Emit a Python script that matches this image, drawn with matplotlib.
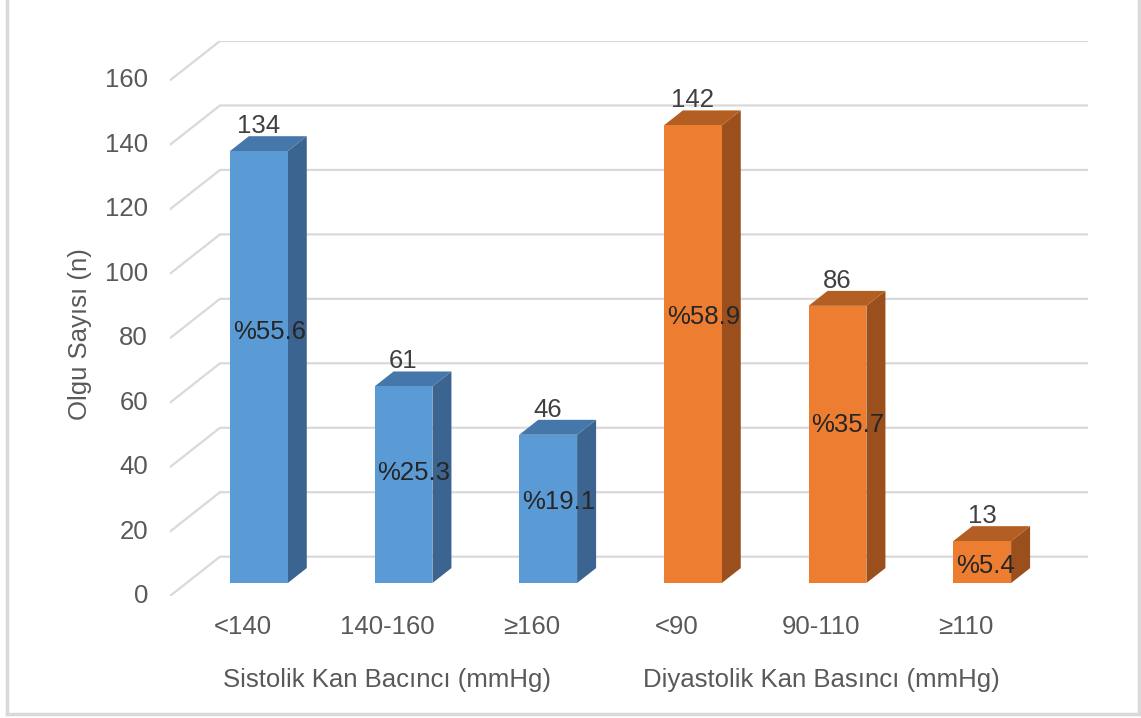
import matplotlib
matplotlib.use("Agg")
import matplotlib.pyplot as plt
from matplotlib.patches import Polygon
from matplotlib.lines import Line2D

# ── Données ───────────────────────────────────────────────────────────────────
categories = ['<140', '140-160', '≥160', '<90', '90-110', '≥110']
counts = [134, 61, 46, 142, 86, 13]
percents = ['%55.6', '%25.3', '%19.1', '%58.9', '%35.7', '%5.4']
groups = ['Sistolik Kan Bacıncı (mmHg)', 'Diyastolik Kan Basıncı (mmHg)']
group_of_bar = [0, 0, 0, 1, 1, 1]
y_ticks = [0, 20, 40, 60, 80, 100, 120, 140, 160]

# ── Style ─────────────────────────────────────────────────────────────────────
plt.rcParams['font.family'] = ['Liberation Sans', 'DejaVu Sans']
FS = 18.5
GRID = '#D9D9D9'
TXT = '#595959'
LAB = '#404040'
front_c = ['#5B9BD5', '#ED7D31']
top_c = ['#4677AA', '#B35E22']
side_c = ['#3B6590', '#9B4F1C']

PX = 72 / 100                 # 1 pixel en points (dpi=100)

# profondeur 3D (unités données)
DX, DY = 0.3456, 12.2
F1, F2 = 0.33, 0.71          # face avant / arrière des barres (fraction profondeur)
W = 0.40                      # largeur de barre

fig = plt.figure(figsize=(11.41, 7.18), dpi=100)
ax = fig.add_axes([170 / 1141, 1 - 596 / 718, 918 / 1141, 555 / 718])
n = len(categories)
ax.set_xlim(0, n + DX)
ax.set_ylim(0, y_ticks[-1] + DY)
ax.axis('off')

# grille murale (oblique + horizontale)
for v in y_ticks:
    ax.plot([0, DX, n + DX], [v, v + DY, v + DY], color=GRID, lw=1.6,
            zorder=1, solid_joinstyle='miter')
    ax.annotate(str(v), (0, v), xytext=(-22 * PX, 0), textcoords='offset points',
                ha='right', va='center', fontsize=FS, color=TXT,
                annotation_clip=False)

# barres 3D
for i, (v, g) in enumerate(zip(counts, group_of_bar)):
    x0 = i + 0.5 - W / 2 + F1 * DX
    yb = F1 * DY
    ddx, ddy = (F2 - F1) * DX, (F2 - F1) * DY
    front = [(x0, yb), (x0 + W, yb), (x0 + W, yb + v), (x0, yb + v)]
    top = [(x0, yb + v), (x0 + W, yb + v), (x0 + W + ddx, yb + v + ddy),
           (x0 + ddx, yb + v + ddy)]
    side = [(x0 + W, yb), (x0 + W + ddx, yb + ddy),
            (x0 + W + ddx, yb + v + ddy), (x0 + W, yb + v)]
    ax.add_patch(Polygon(side, closed=True, fc=side_c[g], ec='none', zorder=3))
    ax.add_patch(Polygon(top, closed=True, fc=top_c[g], ec='none', zorder=3))
    ax.add_patch(Polygon(front, closed=True, fc=front_c[g], ec='none', zorder=4))

    # valeur au-dessus
    ax.annotate(str(v), (x0 + W / 2, yb + v + ddy), xytext=(0, 3 * PX),
                textcoords='offset points', ha='center', va='baseline',
                fontsize=FS, color=LAB, zorder=6, annotation_clip=False)
    # pourcentage dans la barre
    ax.annotate(percents[i], (x0, 0.6 * v + 1.5), xytext=(3 * PX, 0),
                textcoords='offset points', ha='left', va='center',
                fontsize=FS, color='#262626', zorder=6)

# libellés de catégories
for i, c in enumerate(categories):
    ax.annotate(c, (i + 0.5, 0), xytext=(0, -31 * PX), textcoords='offset points',
                ha='center', va='center', fontsize=FS, color=TXT,
                annotation_clip=False)

# libellés de groupes (centrés sur chaque groupe de 3 catégories)
for gi, gname in enumerate(groups):
    ax.annotate(gname, (gi * 3 + 1.5, 0), xytext=(0, -84 * PX),
                textcoords='offset points', ha='center', va='center',
                fontsize=FS, color=TXT, annotation_clip=False)

fig.text(80 / 1141, 1 - 334 / 718, 'Olgu Sayısı (n)', rotation=90,
         ha='center', va='center', fontsize=FS, color=TXT)

# cadre du graphique
for xs, ys in [([7, 7], [0, 714]), ([7, 1139], [714, 714]), ([1139, 1139], [0, 714])]:
    fig.add_artist(Line2D([x / 1141 for x in xs], [1 - y / 718 for y in ys],
                          color=GRID, lw=2.5))

fig.savefig('out.png', dpi=100, facecolor='white')
